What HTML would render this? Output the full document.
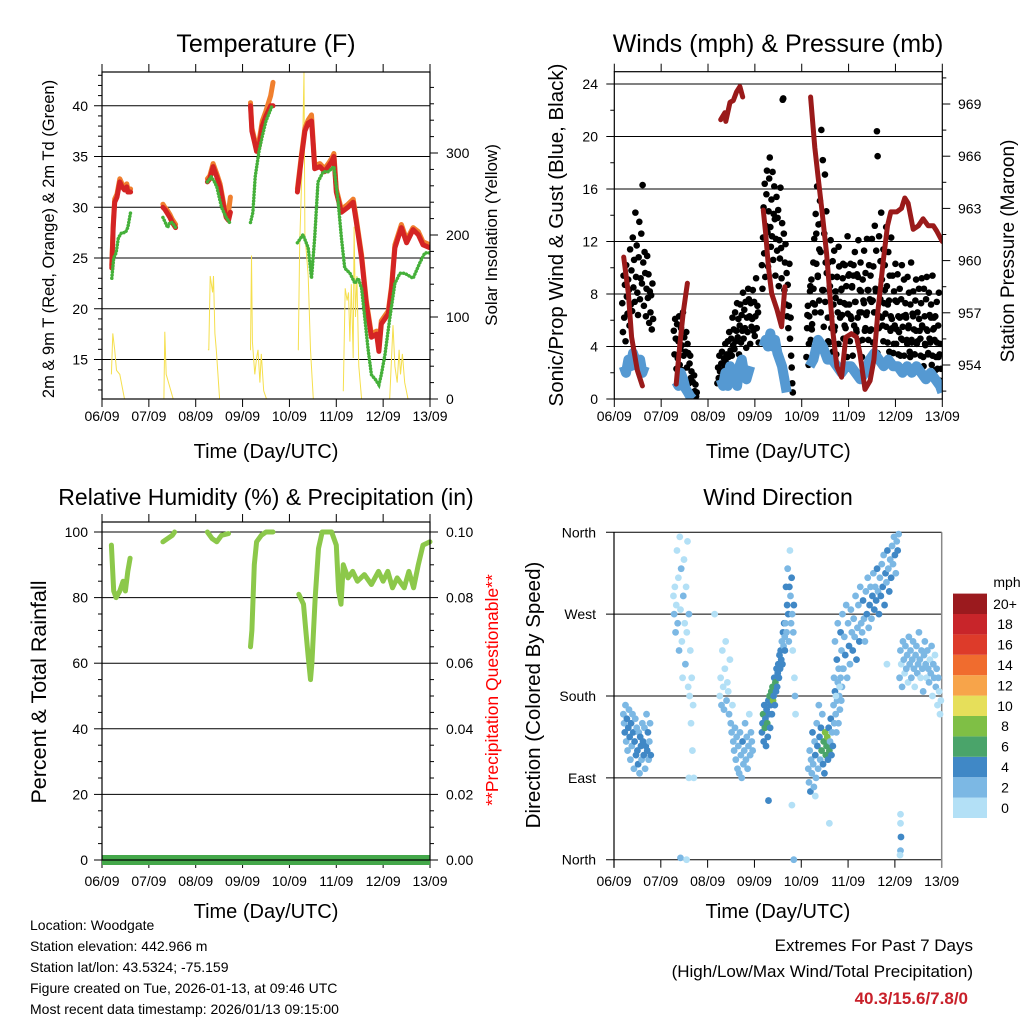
<!DOCTYPE html>
<html><head><meta charset="utf-8">
<style>
html,body{margin:0;padding:0;background:#fff;}
svg{display:block;font-family:"Liberation Sans",Arial,sans-serif;}
</style></head>
<body>
<svg id="c" width="1024" height="1024" viewBox="0 0 1024 1024" xmlns="http://www.w3.org/2000/svg">
<rect width="1024" height="1024" fill="#fff"/>
<g id="texts" font-size="14" fill="#000">
<text x="30" y="930">Location: Woodgate</text>
<text x="30" y="951">Station elevation: 442.966 m</text>
<text x="30" y="972">Station lat/lon: 43.5324; -75.159</text>
<text x="30" y="993">Figure created on Tue, 2026-01-13, at 09:46 UTC</text>
<text x="30" y="1014">Most recent data timestamp: 2026/01/13 09:15:00</text>
<text x="973" y="951" text-anchor="end" font-size="17">Extremes For Past 7 Days</text>
<text x="973" y="977" text-anchor="end" font-size="17">(High/Low/Max Wind/Total Precipitation)</text>
<text x="968" y="1004" text-anchor="end" font-size="17" font-weight="bold" fill="#c8202a">40.3/15.6/7.8/0</text>
</g>
</svg>
<script>
// ---------- DATA ----------
var dayLabels = ["06/09","07/09","08/09","09/09","10/09","11/09","12/09","13/09"];
var redDays = [0.21,0.24,0.27,0.32,0.38,0.43,0.48,0.53,0.55,0.61,null,1.30,1.34,1.38,1.45,1.5,1.57,null,2.25,2.3,2.33,2.37,2.45,2.52,2.6,2.65,2.7,2.74,null,3.17,3.2,3.25,3.3,3.35,3.42,3.5,3.6,3.65,null,4.17,4.26,4.33,4.40,4.47,4.51,4.54,4.65,4.75,4.83,4.90,4.95,5.00,5.11,5.25,5.36,5.43,5.54,5.64,5.75,5.86,5.91,5.96,6.11,6.18,6.25,6.39,6.50,6.64,6.75,6.85,7.0];
var redVals = [24,28,30.5,31,32.5,32,31.7,32,31.5,31.5,null,30,29.8,29.5,29,28.5,28,null,32.5,32.8,33.3,34,33,32,30,29,28.7,29.5,null,40,37.5,36.5,35.5,36,38,39,40,40,null,31.5,35,37.5,38.3,38.5,36,33.8,34,33.5,34,34.5,35,31.5,29.5,30,30.5,28.5,25,20.5,17.2,17.5,15.8,18.5,19.5,22,26,28,26.5,27.8,27.3,26.3,26];
var orangeVals = [24.3,28.3,30.8,31.3,32.8,32.3,32,32.3,31.8,31.8,null,30.3,30,29.8,29.3,28.8,28.3,null,32.8,33.1,33.6,34.3,33.3,32.3,30.3,29.3,29.5,31,null,40.3,37.8,36.8,35.8,36.5,38.5,39.5,41,42.3,null,31.8,35.3,37.8,38.6,39.1,36.3,34.1,34.3,33.8,34.3,34.8,35.3,31.8,29.8,30.3,30.8,28.8,25.3,20.8,17.5,17.8,16.1,18.8,19.8,22.3,26.3,28.3,26.8,28,27.6,26.6,26.3];
var greenDays = [0.21,0.25,0.3,0.35,0.42,0.5,0.55,0.61,null,1.3,1.35,1.4,1.45,1.5,1.57,null,2.25,2.33,2.4,2.45,2.55,2.65,2.72,null,3.17,3.22,3.27,3.35,3.42,3.5,3.63,null,4.17,4.29,4.40,4.47,4.54,4.61,4.72,4.83,4.95,5.04,5.11,5.18,5.29,5.40,5.47,5.54,5.61,5.68,5.75,5.84,5.91,5.96,6.04,6.14,6.25,6.36,6.46,6.64,6.78,6.89,7.0];
var greenVals = [23,25,25.5,27,27.5,27.5,28,29.5,null,29,28.5,28,28.5,28.5,28,null,32.5,33,32.5,32,30,29,28.5,null,28.5,29.5,33,35.5,37,38.5,40,null,26.5,27.3,26,23,27,32.5,33.5,33.5,34,30.5,27,24,23.5,22.5,23,22,19,16,13.5,13,12.5,13.5,15.5,19,22.5,23.5,23.5,23,24.5,25.5,25.5];
var solarDays = [0.20,0.23,0.27,0.31,0.38,0.48,null,1.32,1.34,1.37,1.52,null,2.26,2.28,2.31,2.36,2.38,2.41,2.44,2.51,null,3.16,3.17,3.19,3.21,3.26,3.30,3.33,3.37,3.40,3.45,3.51,null,4.18,4.19,4.22,4.28,4.31,4.33,4.36,4.40,4.45,4.51,null,5.14,5.15,5.19,5.23,5.26,5.29,5.32,5.36,5.38,5.41,5.44,5.48,5.54,null,6.14,6.21,6.25,6.30,6.34,6.37,6.41,6.46,6.53];
var solarVals = [30,80,60,35,30,0,null,0,82,30,0,null,60,60,150,130,150,80,60,0,null,60,60,175,70,30,50,60,20,55,10,0,null,60,60,190,300,399,200,180,150,60,0,null,10,10,135,120,130,70,140,50,210,100,150,40,0,null,0,90,40,20,60,30,55,20,0];
var presDays = [0.2,0.3,0.37,0.49,0.6,null,1.32,1.40,1.47,1.56,null,2.27,2.36,2.38,2.47,2.54,2.61,2.68,2.74,null,3.18,3.23,3.29,3.36,3.47,3.57,3.64,null,4.19,4.28,4.35,4.43,4.53,4.60,4.67,4.75,4.85,4.94,5.06,5.17,5.24,5.35,5.46,5.54,5.63,5.74,5.83,5.90,6.03,6.13,6.20,6.27,6.38,6.49,6.59,6.70,6.81,6.88,7.0];
var presVals = [960.2,958.1,955.6,953.7,952.8,null,952.9,955.2,957.0,958.7,null,968.1,968.5,968.0,969.1,969.2,969.7,970.0,969.4,null,962.9,961.6,959.6,958.1,957.2,956.2,958.5,null,969.4,966.5,964.8,962.9,960.4,958.1,955.8,953.9,953.3,955.6,955.8,955.6,954.7,952.6,953.1,954.3,957.2,960.0,962.0,962.8,962.8,963.0,963.6,963.3,961.8,962.0,962.4,962.0,962.0,961.7,961.1];
var windDays = [0.2,0.25,0.3,0.35,0.4,0.45,0.5,0.55,0.6,0.65,null,1.32,1.37,1.42,1.47,1.52,1.57,1.62,1.67,null,2.27,2.32,2.37,2.42,2.47,2.52,2.57,2.62,2.67,2.72,2.77,2.82,2.9,null,3.18,3.23,3.28,3.33,3.38,3.43,3.48,3.53,3.58,3.63,3.68,null,4.17,4.25,4.35,4.45,4.55,4.65,4.75,4.85,4.95,5.05,5.15,5.25,5.35,5.45,5.55,5.65,5.75,5.85,5.95,6.05,6.15,6.25,6.35,6.45,6.55,6.65,6.75,6.85,6.95,7.0];
var windVals = [2.5,2,3,2.5,3.5,3,2.5,3,2,2.5,null,1.3,1.0,2,1.5,0.8,0.5,0.2,0,null,1.5,1.0,2,1,2.5,1.5,2,1,2.5,3,2,1.5,2.5,null,4,4.5,4,5,4,4.5,3.5,3,2.5,1.5,0.5,null,2.5,3,4.5,4,3,3,2.5,2,2.5,2.5,2,1.5,2,3,3.5,3,2.5,3,2.5,2.5,2,2.5,2,2.5,2,1.5,2,1.5,1,0.5];
var gustStart = [0.17,1.27,2.2,3.15,4.1];
var gustStep = [0.014,0.014,0.014,0.012,0.0152];
var gust1 = [7.3,5.1,9.4,6.2,8.7,4.4,10.2,7.8,6.5,9.1,8.3,5.6,11.4,7.2,9.8,6.7,12.3,8.5,10.6,7.4,14.2,9.3,11.7,8.1,6.4,10.8,13.5,7.6,9.2,12.6,8.8,16.3,10.4,7.1,11.2,9.6,6.3,8.4,10.9,7.7,9.5,5.8,8.2,6.6,7.9,5.3,8.8,6.1];
var gust2 = [5.2,3.4,6.1,4.6,2.3,5.7,3.1,4.4,6.3,2.6,3.8,5.4,4.1,2.2,6.6,3.3,4.7,1.4,3.6,5.1,2.4,4.2,3.5,1.2,2.7,3.3,1.6,2.1,0.5,1.3,0.3,1.8,0.6,1.1,0.2,0.5];
var gust3 = [1.2,2.4,1.6,3.3,2.1,1.4,2.7,3.6,2.2,1.3,3.1,2.5,4.2,2.8,3.4,1.7,4.4,3.2,5.1,2.3,3.7,4.6,3.3,6.2,4.1,5.3,3.8,6.6,4.4,5.2,7.3,4.7,6.1,3.4,5.6,7.2,4.3,6.4,5.2,8.1,4.6,6.8,5.4,7.4,3.9,6.2,5.1,8.4,7.6,6.3,4.2,7.3,5.5,6.1,8.3,5.2,7.4,4.8,6.3,9.2,5.4,7.1,6.6,4.3];
var gust4 = [10.2,8.4,12.3,14.6,11.1,16.4,9.3,13.2,15.6,17.4,12.7,10.1,14.3,16.8,18.4,13.1,11.6,15.2,12.4,17.3,10.6,14.1,16.2,13.7,9.4,12.2,15.4,11.3,13.8,14.4,8.6,12.1,10.7,16.1,11.5,9.2,13.4,22.8,22.9,12.6,8.3,10.4,11.8,7.2,9.6,6.3,8.7,5.4,7.1,10.3,4.6,6.2,3.3,2.4,1.2,0.5];
var gust5 = [3.2,5.4,7.1,2.6,6.3,8.2,4.5,9.1,5.7,7.3,8.4,12.2,6.6,14.1,10.3,16.2,9.4,13.3,7.5,15.1,11.2,20.5,13.4,18.2,8.3,12.6,17.1,10.4,14.3,9.6,6.2,10.4,4.3,8.6,12.1,5.4,9.3,3.6,7.2,11.3,5.5,8.2,3.4,9.3,6.6,4.2,10.1,7.4,2.5,8.3,6.4,9.2,4.6,7.3,10.2,5.4,8.6,3.2,6.5,9.4,7.2,4.4,10.3,6.1,8.5,3.3,9.4,5.6,11.2,7.4,5.3,9.5,6.2,12.1,4.4,8.3,10.4,6.6,3.2,9.1,7.5,11.3,5.2,9.6,6.4,12.2,8.3,4.5,10.2,7.6,9.4,5.3,12.2,7.5,10.1,6.6,13.2,8.4,11.3,20.4,18.5,8.2,12.4,6.3,10.5,14.2,9.1,5.6,11.4,7.3,10.2,6.5,13.1,8.6,4.3,11.2,7.5,9.4,5.2,12.3,6.1,9.4,3.5,8.2,5.6,10.3,4.2,7.4,9.5,6.3,5.1,8.4,3.3,7.6,10.2,4.5,6.3,9.1,2.4,7.3,6.2,4.5,9.3,5.4,8.1,3.6,7.2,10.4,4.3,6.5,8.2,5.3,3.4,7.5,9.1,4.2,6.6,2.3,8.4,5.2,4.6,7.3,9.2,5.5,3.2,8.4,6.3,4.1,7.6,9.3,5.2,3.5,8.1,6.4,4.3,7.2,2.6,9.4,5.3,6.2,4.5,6.3,3.2,7.4,2.3,5.6,8.1,3.4,4.2,2.3];
var gust6 = [6.4,4.2,8.6,5.3,10.4,7.2,12.6,9.3,11.4,6.6,8.3,5.5,7.4,9.6,4.4,8.2,6.3,10.5,5.2,7.7,9.3,11.6,6.2,8.4,10.3,5.6,7.2,12.4,9.5,6.3,8.6,10.2,7.4,5.1,9.3,6.6,8.2,4.5,7.3,5.4,6.6,8.3,5.2,7.4,4.3,6.6,8.2,3.5,5.4,7.6,6.2,4.4,8.3,5.5,7.2,3.6,6.3,5.4,4.2,7.5,5.3,3.4,6.2,4.6,5.5,3.3,6.4,4.2,5.6,3.2,4.5,6.3,3.4,5.2,4.4,6.1,3.3,5.6,2.5,4.2,5.3,3.4,4.6,6.2,3.3,5.4,2.2,4.3,3.2,1.4];
var gustSets = [gust1,gust2,gust3,gust4,gust5];
var rhDays = [0.2,0.25,0.3,0.38,0.45,0.5,0.55,0.6,null,1.3,1.4,1.5,1.55,null,2.25,2.35,2.45,2.55,2.7,null,3.17,3.2,3.25,3.3,3.4,3.5,3.65,null,4.2,4.3,4.35,4.4,4.45,4.48,4.55,4.62,4.7,4.9,5.0,5.05,5.1,5.15,5.25,5.35,5.45,5.6,5.75,5.9,6.0,6.1,6.2,6.3,6.45,6.55,6.65,6.75,6.85,7.0];
var rhVals = [96,82,80,82,85,82,88,92,null,97,98,99,100,null,100,98,97,99,99.5,null,65,70,90,97,99,100,100,null,81,78,70,62,55,60,80,95,100,100,96,82,78,90,86,88,85,87,84,88,85,88,83,86,83,88,83,90,96,97];
var precipDays = [0,7];
var precipVals = [0,0];
var dirStart = [0.2,1.27,2.26,3.16,3.65,4.15,4.7,6.1];
var dirStep = [0.015,0.015,0.018,0.0125,0.012,0.015,0.02,0.018];
var dirDeg = [
[160,150,140,170,130,155,120,145,165,135,110,150,125,160,140,100,130,155,115,145,120,105,140,95,135,125,110,150,130,115,145,100,125,160,120,140,110,130,150,115],
[290,270,300,250,280,340,260,310,230,355,275,320,240,200,290,330,260,215,300,250,350,190,270,180,230,150,200,120,170,90],
[180,200,170,230,190,165,210,240,175,195,185,160,220,150,140,170,130,120,145,110,135,100,125,95,140,115,90,130,105,120,150,110,135,100,125,160,115,140,130,120],
[140,150,160,130,170,145,155,125,165,150,135,175,160,180,145,170,185,160,190,175,180,200,170,195,185,210,190,205,215,200,225,210,230,220,240,215,250,235,260,245],
[230,260,300,250,280,320,270,240,300,340,290,260,310,270,230,250,280,200,180,160],
[100,85,120,75,110,95,140,105,80,130,115,90,150,125,100,170,135,110,145,120,160,105,130,95,140,115,125,135,110,145,120,130,155,115,140,125,170,150,185,160,140,175,195,150,180,165,200,175,190,210],
[200,240,180,220,260,210,190,250,230,270,210,245,225,280,200,260,235,215,275,250,230,265,245,290,220,255,280,240,300,260,250,285,265,240,295,270,310,255,280,300,265,290,315,275,300,285,320,295,270,310,290,325,300,335,280,315,305,340,320,295,330,310,345,325,355,335,315,350,340,358],
[200,230,215,190,240,220,205,235,210,225,195,245,215,230,200,220,240,210,190,225,235,205,215,250,220,200,230,210,185,225,240,215,200,230,210,195,220,205,235,180,215,200,225,190,210,170,200,185,160,175]];
var dirSpd = [
[3,2,4,2,3,4,2,5,3,4,2,4,3,2,5,3,4,2,4,3,5,4,2,3,5,4,3,2,5,4,3,2,4,3,5,4,3,2,3,4],
[1,2,1,3,1,1,2,1,2,1,1,2,1,1,2,1,1,2,1,1,1,1,2,1,1,1,1,1,1,1],
[1,1,2,1,1,2,1,1,2,1,1,2,1,2,3,1,2,3,2,3,2,3,2,3,2,3,2,4,2,3,2,3,2,3,2,1,3,2,2,3],
[4,5,6,4,5,7,4,5,4,6,5,4,5,7,4,5,6,5,7,8,5,4,5,6,4,5,5,4,5,4,5,4,5,4,3,5,4,3,4,3],
[4,3,4,2,4,3,5,2,4,1,3,2,4,3,1,2,4,1,2,1],
[2,3,2,4,3,2,4,3,2,3,4,3,2,5,3,2,4,3,5,6,3,4,7,4,8,7,6,8,5,4,7,3,4,5,3,4,2,3,4,2,3,2,3,2,3,2,3,2,3,2],
[2,2,1,4,2,2,1,4,2,2,2,2,4,2,2,2,4,2,2,2,4,2,2,2,4,2,2,4,2,2,2,4,2,2,2,4,2,2,4,2,2,4,2,4,2,4,4,2,4,2,4,2,4,2,4,4,2,4,2,4,2,4,2,2,2,4,2,2,4,2],
[2,2,1,2,2,2,1,2,2,2,1,2,2,2,3,2,2,2,1,2,2,2,3,2,2,1,2,2,2,2,2,2,1,2,2,2,1,2,2,1,2,2,1,2,2,1,2,1,1,1]];
var strayDays = [6.12,6.12,6.13,6.12,6.11,1.42,1.55,3.84,2.15,4.3,3.3,4.6,1.6,3.8,5.83];
var strayDeg = [50,40,25,10,5,2,0,0,270,70,65,40,90,60,215];
var straySpd = [1,1,4,2,1,2,1,2,1,1,4,1,1,1,1];
var cbarLabels = ["0","2","4","6","8","10","12","14","16","18","20+"];
var cbarColors = ["#b3e0f6","#7cb8e4","#4088c6","#4aa46a","#7fbf45","#e6df5a","#f7a44a","#f06c2e","#dd3b2a","#c8252a","#9b1a1e"];

// ---------- DRAW ----------
var NS="http://www.w3.org/2000/svg", svg=document.getElementById('c');
function el(tag,parent){var e=document.createElementNS(NS,tag);(parent||svg).appendChild(e);return e;}
function at(e,o){for(var k in o)e.setAttribute(k,o[k]);return e;}
function txt(s,x,y,size,anchor,parent,rot,fill){var t=el('text',parent);at(t,{x:x,y:y,'font-size':size,'text-anchor':anchor||'middle',fill:fill||'#000'});if(rot)t.setAttribute('transform','rotate(-90 '+x+' '+y+')');t.textContent=s;return t;}
function line(x1,y1,x2,y2,w,col,parent){var l=el('line',parent);at(l,{x1:x1,y1:y1,x2:x2,y2:y2,stroke:col||'#000','stroke-width':w||1});return l;}
function pathFrom(days,vals,fx,fy){var d='',pen=false;for(var i=0;i<days.length;i++){if(days[i]===null||vals[i]===null){pen=false;continue;}d+=(pen?'L':'M')+fx(days[i]).toFixed(1)+' '+fy(vals[i]).toFixed(1);pen=true;}return d;}
function spdColor(s){var i=Math.min(10,Math.floor(s/2));return cbarColors[i];}

function xAxis(g,x0,x1,yb,ytop,labelY,titleY,top){
  var fx=function(d){return x0+d*(x1-x0)/7;};
  for(var i=0;i<8;i++){var x=fx(i);
    var tk=line(x,yb,x,yb+8,1,'#000',g);
    
    
    if(top){var tt=line(x,ytop,x,ytop-8,1,'#000',g);
      
      }
    var t=txt(dayLabels[i],x,labelY,14,'middle',g);
    
    }
  var tl=txt('Time (Day/UTC)',(x0+x1)/2,titleY,20,'middle',g);
  
  
  return fx;
}

// ===== Panel 1: Temperature =====
(function(){
var g=el('g');
var X0=102,X1=430,Y0=72,Y1=399;
var fx=xAxis(g,X0,X1,Y1,Y0,421,458,true);
var fy=function(v){return 258-(v-25)*10.15;};
var fs=function(w){return 399-w*0.82;};
var clip=el('clipPath',g);clip.id='cp1';at(el('rect',clip),{x:X0,y:Y0,width:X1-X0,height:Y1-Y0});
for(var v=15;v<=40;v+=5){var gl=line(X0,fy(v),X1,fy(v),1,'#000',g);
  var t=txt(String(v),88,fy(v)+5,14,'end',g);}
for(var v=12;v<=43;v++){line(X0,fy(v),X0-(v%5==0?8:4),fy(v),1,'#000',g);}
for(var w=0;w<=390;w+=20){line(X1,fs(w),X1+(w%100==0?8:4),fs(w),1,'#000',g);}
for(var w=0;w<=300;w+=100){var t=txt(String(w),446,fs(w)+5,14,'start',g);}
var dg=el('g',g);dg.setAttribute('clip-path','url(#cp1)');
var s=el('path',dg);at(s,{d:pathFrom(solarDays,solarVals,fx,fs),fill:'none',stroke:'#f5df4d','stroke-width':1});

var o=el('path',dg);at(o,{d:pathFrom(redDays,orangeVals,fx,fy),fill:'none',stroke:'#f07f2e','stroke-width':5,'stroke-linejoin':'round','stroke-linecap':'round'});

var r=el('path',dg);at(r,{d:pathFrom(redDays,redVals,fx,fy),fill:'none',stroke:'#d42424','stroke-width':5,'stroke-linejoin':'round','stroke-linecap':'round'});

var gr=el('path',dg);at(gr,{d:pathFrom(greenDays,greenVals,fx,fy),fill:'none',stroke:'#45b03a','stroke-width':3.5,'stroke-dasharray':'0.1 3','stroke-linecap':'round'});

var fr=el('rect',g);at(fr,{x:X0,y:Y0,width:X1-X0,height:Y1-Y0,fill:'none',stroke:'#000','stroke-width':1.2});

var t1=txt('Temperature (F)',266,52,25,'middle',g);
var t2=txt('2m & 9m T (Red, Orange) & 2m Td (Green)',54,239,16.5,'middle',g,true);
var t3=txt('Solar Insolation (Yellow)',497,235,17,'middle',g,true);
})();

// ===== Panel 2: Winds =====
(function(){
var g=el('g');
var X0=614.3,X1=942.3,Y0=71.7,Y1=399;
var fx=xAxis(g,X0,X1,Y1,Y0,421,458,true);
var fy=function(v){return 399-v*13.125;};
var fp=function(p){return 365-(p-954)*17.4;};
var clip=el('clipPath',g);clip.id='cp2';at(el('rect',clip),{x:X0,y:Y0,width:X1-X0,height:Y1-Y0});
for(var v=0;v<=24;v+=4){if(v>0){var gl=line(X0,fy(v),X1,fy(v),1,'#000',g);}
  var t=txt(String(v),598,fy(v)+5,14,'end',g);}
for(var v=0;v<=24;v+=2){line(X0,fy(v),X0-(v%4==0?8:4),fy(v),1,'#000',g);}
for(var p=952.5;p<=970.6;p+=1.5){var maj=Math.abs((p-954)%3)<0.01;line(X1,fp(p),X1+(maj?8:4),fp(p),1,'#000',g);}
for(var p=954;p<=969;p+=3){var t=txt(String(p),958,fp(p)+5,14,'start',g);}
var dg=el('g',g);dg.setAttribute('clip-path','url(#cp2)');
for(var s=0;s<gustSets.length;s++){var arr=gustSets[s];
  for(var i=0;i<arr.length;i++){var c=el('circle',dg);at(c,{cx:fx(gustStart[s]+i*gustStep[s]),cy:fy(arr[i]),r:3.3,fill:'#000'});
    
    }}
for(var i=0;i<gust6.length;i++){var c=el('circle',dg);at(c,{cx:fx(4.12+i*0.0318),cy:fy(gust6[i]),r:3.3,fill:'#000'});
  
  }
var w=el('path',dg);at(w,{d:pathFrom(windDays,windVals,fx,fy),fill:'none',stroke:'#5599d2','stroke-width':10,'stroke-linejoin':'round'});

var pr=el('path',dg);at(pr,{d:pathFrom(presDays,presVals,fx,fp),fill:'none',stroke:'#9a1a1a','stroke-width':5,'stroke-linejoin':'round','stroke-linecap':'round'});

var fr=el('rect',g);at(fr,{x:X0,y:Y0,width:X1-X0,height:Y1-Y0,fill:'none',stroke:'#000','stroke-width':1.2});

var t1=txt('Winds (mph) & Pressure (mb)',778,52,25,'middle',g);
var t2=txt('Sonic/Prop Wind & Gust (Blue, Black)',563,235,20.5,'middle',g,true);
var t3=txt('Station Pressure (Maroon)',1014,251,19,'middle',g,true);
})();

// ===== Panel 3: RH =====
(function(){
var g=el('g');
var X0=102,X1=430,Y0=522,Y1=860;
var fx=xAxis(g,X0,X1,Y1,Y0,886,918,true);
var fy=function(v){return 860-v*3.28;};
var fpp=function(v){return 860-v*3280;};
for(var v=0;v<=100;v+=20){if(v>0){var gl=line(X0,fy(v),X1,fy(v),1,'#000',g);}
  var t=txt(String(v),88,fy(v)+5,14,'end',g);
  var t2=txt((v/1000).toFixed(2),446,fy(v)+5,14,'start',g);}
for(var v=0;v<=100;v+=5){line(X0,fy(v),X0-(v%20==0?8:4),fy(v),1,'#000',g);line(X1,fy(v),X1+(v%20==0?8:4),fy(v),1,'#000',g);}
var pp=el('path',g);at(pp,{d:pathFrom(precipDays,precipVals,fx,fpp),fill:'none',stroke:'#44a84a','stroke-width':10});

var rh=el('path',g);at(rh,{d:pathFrom(rhDays,rhVals,fx,fy),fill:'none',stroke:'#8cc84a','stroke-width':5,'stroke-linejoin':'round','stroke-linecap':'round'});

var fr=el('rect',g);at(fr,{x:X0,y:Y0,width:X1-X0,height:Y1-Y0,fill:'none',stroke:'#000','stroke-width':1.2});

var t1=txt('Relative Humidity (%) & Precipitation (in)',266,505,23,'middle',g);
var t2=txt('Percent & Total Rainfall',46,692,21.5,'middle',g,true);
var t3=txt('**Precipitation Questionable**',498,690,17.5,'middle',g,true,'#ff0000');
})();

// ===== Panel 4: Wind Direction =====
(function(){
var g=el('g');
var X0=614,X1=941.7,Y0=532.3,Y1=859.7;
var fx=xAxis(g,X0,X1,Y1,Y0,886,918,false);
var fy=function(d){return 859.7-d*(327.4/360);};
var names=['North','East','South','West','North'];
for(var i=0;i<5;i++){var y=fy(i*90);var gl=line(X0-8,y,X1,y,1,'#000',g);
  var t=txt(names[i],596,y+5,14,'end',g);}
line(X0,Y0,X0,Y1+8,1.2,'#000',g);
line(X1,Y0,X1,Y1+8,1.5,'#888',g);
for(var c=0;c<dirDeg.length;c++){for(var i=0;i<dirDeg[c].length;i++){
  var p=el('circle',g);at(p,{cx:fx(dirStart[c]+i*dirStep[c]),cy:fy(dirDeg[c][i]),r:3.4,fill:spdColor(dirSpd[c][i])});
  
  }}
for(var i=0;i<strayDays.length;i++){var p=el('circle',g);at(p,{cx:fx(strayDays[i]),cy:fy(strayDeg[i]),r:3.4,fill:spdColor(straySpd[i])});
  
  }
var t1=txt('Wind Direction',778,505,23,'middle',g);
var t2=txt('Direction (Colored By Speed)',540,695,20.5,'middle',g,true);
var cb=el('g',g);
var bh=20.4,by=818;
for(var i=0;i<cbarColors.length;i++){var r=el('rect',cb);at(r,{x:953,y:by-(i+1)*bh,width:34,height:bh,fill:cbarColors[i]});
  
  
  var t=txt(cbarLabels[i],1005,by-i*bh-bh/2+5,14,'middle',cb);
  
  }
var mu=txt('mph',1007,587,14,'middle',cb);
})();
</script>
</body></html>
